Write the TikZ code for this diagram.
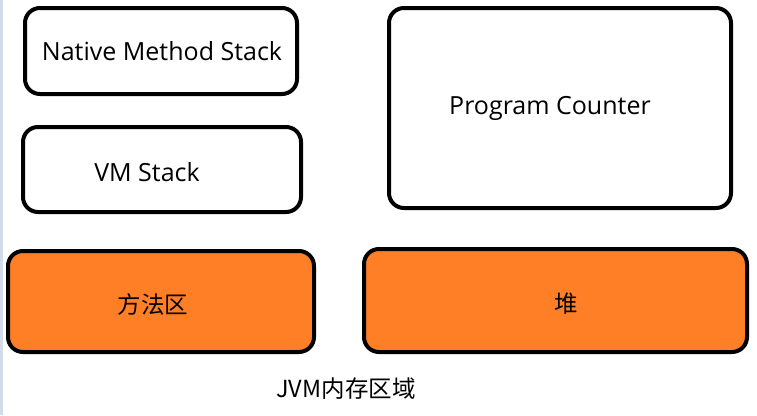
\documentclass[tikz,border=0pt]{standalone}
\usepackage{fontspec}
\setmainfont{Open Sans}
\newfontfamily\cjk{Noto Sans CJK SC}
\definecolor{boxorange}{HTML}{FF7F27}
\definecolor{edgeblue}{HTML}{D3DBE8}
\begin{document}
\begin{tikzpicture}[x=1pt,y=-1pt,
  box/.style={draw=black,line width=4pt,rounded corners=15pt},
  lbl/.style={inner sep=0pt,font=\fontsize{25}{30}\selectfont},
  clbl/.style={inner sep=0pt,font=\fontsize{23.5}{28}\selectfont\cjk}]
\useasboundingbox (0,0) rectangle (757,415);
\fill[white] (0,0) rectangle (757,415);
\fill[edgeblue] (0,0) rectangle (3,415);
\draw[box,fill=white] (25,8) rectangle (297,94);
\draw[box,fill=white] (23,127) rectangle (301,212);
\draw[box,fill=white] (389,8) rectangle (731,208);
\draw[box,fill=boxorange] (8,251) rectangle (314,352);
\draw[box,fill=boxorange] (364,249) rectangle (747,352);
\node[lbl] (nms) at (162,51) {Native Method Stack};
\node[lbl] (vms) at (147,172) {VM Stack};
\node[lbl] (pc) at (550,108) {Program Counter};
\node[clbl] (ma) at (153,305) {方法区};
\node[clbl] (heap) at (566,304) {堆};
\node[clbl] (title) at (346,389) {JVM内存区域};
\end{tikzpicture}
\end{document}
